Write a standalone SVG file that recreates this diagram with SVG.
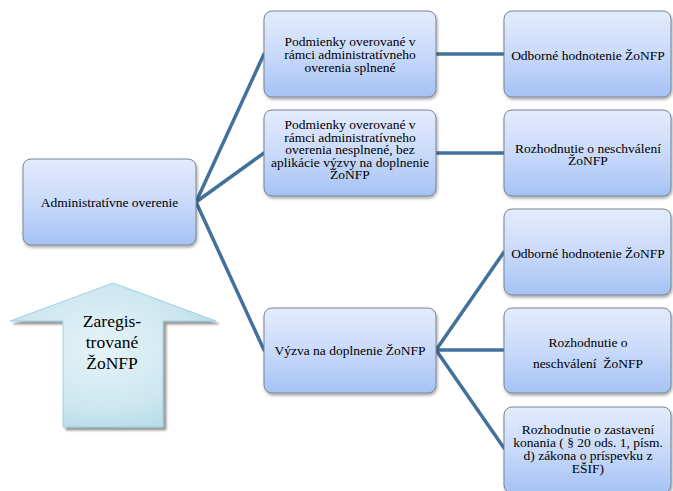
<svg xmlns="http://www.w3.org/2000/svg" width="673" height="491" viewBox="0 0 673 491">
  <defs>
    <linearGradient id="boxGrad" x1="0" y1="0" x2="0" y2="1">
      <stop offset="0" stop-color="#e3ecfc"/>
      <stop offset="0.5" stop-color="#c9dafa"/>
      <stop offset="1" stop-color="#a5c2f4"/>
    </linearGradient>
    <radialGradient id="arrowGrad" cx="0.45" cy="0.45" r="0.7">
      <stop offset="0" stop-color="#e6f3f7"/>
      <stop offset="0.6" stop-color="#cde7f0"/>
      <stop offset="1" stop-color="#a9d7e6"/>
    </radialGradient>
    <filter id="shadow" x="-10%" y="-10%" width="125%" height="130%">
      <feDropShadow dx="1" dy="2" stdDeviation="1.5" flood-color="#000" flood-opacity="0.35"/>
    </filter>
    <filter id="arrowShadow" x="-10%" y="-10%" width="125%" height="125%">
      <feDropShadow dx="3" dy="3" stdDeviation="1" flood-color="#555" flood-opacity="0.6"/>
    </filter>
  </defs>
  <style>
    .box { fill: url(#boxGrad); stroke: #7a8594; stroke-width: 1; filter: url(#shadow); }
    .t { font-family: "Liberation Serif", serif; font-size: 13.5px; fill: #000; text-anchor: middle; }
    .big { font-family: "Liberation Serif", serif; font-size: 17.5px; fill: #000; text-anchor: middle; }
    .conn { stroke: #41719c; stroke-width: 3.5; fill: none; stroke-linecap: round; }
  </style>
  <rect width="673" height="491" fill="#ffffff"/>

  <g id="connectors">
    <line class="conn" x1="196" y1="202" x2="264" y2="54"/>
    <line class="conn" x1="196" y1="202" x2="264" y2="153"/>
    <line class="conn" x1="196" y1="202" x2="264" y2="350"/>
    <line class="conn" x1="436" y1="54" x2="504" y2="54"/>
    <line class="conn" x1="436" y1="153" x2="504" y2="153"/>
    <line class="conn" x1="436" y1="350" x2="504" y2="252"/>
    <line class="conn" x1="436" y1="350" x2="504" y2="350"/>
    <line class="conn" x1="436" y1="350" x2="504" y2="448"/>
  </g>

  <g id="arrow-zaregistrovane">
    <path d="M113,283 L216,321 L163,321 L163,427 L63,427 L63,321 L10,321 Z" fill="url(#arrowGrad)" stroke="#9fd2e0" stroke-width="1" filter="url(#arrowShadow)"/>
    <text class="big" x="112" y="327">Zaregis-</text>
    <text class="big" x="112" y="348">trované</text>
    <text class="big" x="112" y="369">ŽoNFP</text>
  </g>

  <g id="node-admin">
    <rect class="box" x="23" y="159" width="173" height="86" rx="8"/>
    <text class="t" x="109.5" y="207">Administratívne overenie</text>
  </g>

  <g id="node-splnene">
    <rect class="box" x="264" y="11" width="172" height="86" rx="8"/>
    <text class="t" x="350" y="45.5">Podmienky overované v</text>
    <text class="t" x="350" y="58.5">rámci administratívneho</text>
    <text class="t" x="350" y="71.5">overenia splnené</text>
  </g>

  <g id="node-nesplnene">
    <rect class="box" x="264" y="110" width="172" height="86" rx="8"/>
    <text class="t" x="350" y="129">Podmienky overované v</text>
    <text class="t" x="350" y="141.5">rámci administratívneho</text>
    <text class="t" x="350" y="154">overenia nesplnené, bez</text>
    <text class="t" x="350" y="166.5">aplikácie výzvy na doplnenie</text>
    <text class="t" x="350" y="179">ŽoNFP</text>
  </g>

  <g id="node-vyzva">
    <rect class="box" x="264" y="308" width="172" height="85" rx="8"/>
    <text class="t" x="350" y="354.5">Výzva na doplnenie ŽoNFP</text>
  </g>

  <g id="node-odborne1">
    <rect class="box" x="504" y="11" width="167" height="86" rx="8"/>
    <text class="t" x="588" y="59.5">Odborné hodnotenie ŽoNFP</text>
  </g>

  <g id="node-neschvalenie1">
    <rect class="box" x="504" y="110" width="167" height="86" rx="8"/>
    <text class="t" x="588" y="152.5">Rozhodnutie o neschválení</text>
    <text class="t" x="588" y="164.5">ŽoNFP</text>
  </g>

  <g id="node-odborne2">
    <rect class="box" x="504" y="209" width="167" height="86" rx="8"/>
    <text class="t" x="588" y="257.5">Odborné hodnotenie ŽoNFP</text>
  </g>

  <g id="node-neschvalenie2">
    <rect class="box" x="504" y="308" width="167" height="85" rx="8"/>
    <text class="t" x="588" y="346.5">Rozhodnutie o</text>
    <text class="t" x="588" y="367.5" xml:space="preserve">neschválení  ŽoNFP</text>
  </g>

  <g id="node-zastavenie">
    <rect class="box" x="504" y="407" width="167" height="86" rx="8"/>
    <text class="t" x="588" y="433.5">Rozhodnutie o zastavení</text>
    <text class="t" x="588" y="446.5">konania ( § 20 ods. 1, písm.</text>
    <text class="t" x="588" y="459.5">d) zákona o príspevku z</text>
    <text class="t" x="588" y="472.5">EŠIF)</text>
  </g>
</svg>
